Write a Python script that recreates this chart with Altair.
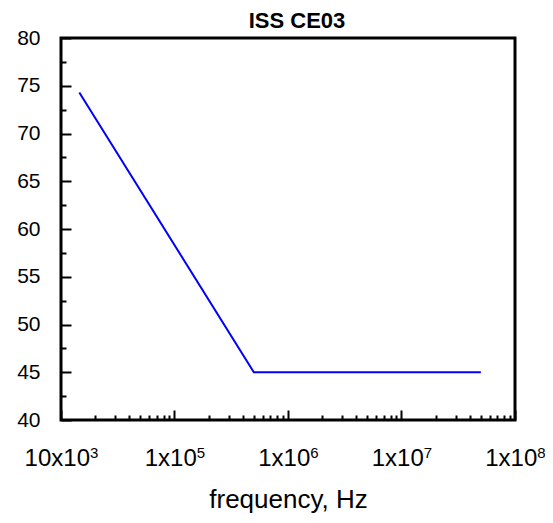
import altair as alt
import pandas as pd

# --- data ---
freq_hz = [14500, 500000, 50000000]
level_db = [74.3, 45.0, 45.0]

x_major = [1e4, 1e5, 1e6, 1e7, 1e8]
x_label_base = ["10x10", "1x10", "1x10", "1x10", "1x10"]
x_label_sup = ["3", "5", "6", "7", "8"]
x_minor = [2e4, 3e4, 4e4, 5e4, 6e4, 7e4, 8e4, 9e4,
           2e5, 3e5, 4e5, 5e5, 6e5, 7e5, 8e5, 9e5,
           2e6, 3e6, 4e6, 5e6, 6e6, 7e6, 8e6, 9e6,
           2e7, 3e7, 4e7, 5e7, 6e7, 7e7, 8e7, 9e7]
y_major = [40, 45, 50, 55, 60, 65, 70, 75, 80]
y_minor = [42.5, 47.5, 52.5, 57.5, 62.5, 67.5, 72.5, 77.5]

df = pd.DataFrame({"freq": freq_hz, "level": level_db})

W, H = 454, 382
FONT = "Liberation Sans"
BASE_FS, SUP_FS = 24, 15


def make_expr(labels):
    expr = "''"
    for v, lab in reversed(list(zip(x_major, labels))):
        expr = f"abs(datum.value/{v} - 1) < 0.001 ? '{lab}' : ({expr})"
    return expr


# horizontal shift so that base + superscript is centred on the tick
def shift_for(base):
    widths = {"1": 0.556, "0": 0.556, "x": 0.5}
    bw = sum(widths[c] for c in base) * BASE_FS
    sw = 0.556 * SUP_FS
    return round((bw - sw) / 2, 1)


first_shift = shift_for(x_label_base[0])
other_shift = shift_for(x_label_base[1])
label_offset = {"condition": {"test": "datum.value < 50000", "value": first_shift},
                "value": other_shift}

xscale = alt.Scale(type="log", domain=[1e4, 1e8], nice=False)
yscale = alt.Scale(domain=[40, 80], nice=False, zero=False)

base = alt.Chart(df)

main = base.mark_line(color="#0000ff", strokeWidth=2).encode(
    x=alt.X("freq:Q", scale=xscale,
            axis=alt.Axis(orient="bottom", values=x_major, labelExpr=make_expr(x_label_base),
                          ticks=False, domain=False, grid=False,
                          labelFlush=False, labelOverlap=False, labelAlign="right",
                          labelOffset=label_offset,
                          labelFont=FONT, labelFontSize=BASE_FS, labelColor="black",
                          labelPadding=26,
                          title="frequency, Hz", titleFont=FONT, titleFontSize=26,
                          titleFontWeight="normal", titleColor="black",
                          titlePadding=16)),
    y=alt.Y("level:Q", scale=yscale,
            axis=alt.Axis(orient="left", values=y_major, ticks=False, domain=False,
                          grid=False, labelFont=FONT, labelFontSize=21,
                          labelColor="black", labelPadding=21, labelFlush=False,
                          labelOverlap=False, title=None)),
)

sup = base.mark_line(strokeOpacity=0).encode(
    x=alt.X("freq:Q", scale=xscale,
            axis=alt.Axis(orient="bottom", values=x_major, labelExpr=make_expr(x_label_sup),
                          ticks=False, domain=False, grid=False,
                          labelFlush=False, labelOverlap=False, labelAlign="left",
                          labelOffset=label_offset,
                          labelFont=FONT, labelFontSize=SUP_FS, labelColor="black",
                          labelPadding=25, title=None)),
    y=alt.Y("level:Q", scale=yscale,
            axis=alt.Axis(orient="left", values=y_major, ticks=False, domain=False,
                          grid=False, labels=False, title=None)),
)


def tick_layer(xv, yv, size, width):
    return base.mark_line(strokeOpacity=0).encode(
        x=alt.X("freq:Q", scale=xscale,
                axis=alt.Axis(orient="top", offset=-H, values=xv, tickSize=size,
                              tickWidth=width, tickColor="black", labels=False,
                              domain=False, grid=False, title=None)),
        y=alt.Y("level:Q", scale=yscale,
                axis=alt.Axis(orient="right", offset=-W, values=yv, tickSize=size,
                              tickWidth=width, tickColor="black", labels=False,
                              domain=False, grid=False, title=None)),
    )


major_ticks = tick_layer(x_major, y_major, 10, 2)
minor_ticks = tick_layer(x_minor, y_minor, 5, 2)

chart = (
    alt.layer(main, sup, major_ticks, minor_ticks)
    .resolve_axis(x="independent", y="independent")
    .properties(
        width=W,
        height=H,
        title=alt.TitleParams("ISS CE03", font=FONT, fontSize=22, fontWeight="bold",
                              color="black", anchor="middle", offset=0, dx=9, dy=6),
        autosize=alt.AutoSizeParams(type="none"),
        padding={"left": 53, "top": 30, "right": 30, "bottom": 95},
        background="white",
    )
    .configure_view(stroke="black", strokeWidth=3)
)

chart.save("out.html", embed_options={"renderer": "svg", "actions": False})
